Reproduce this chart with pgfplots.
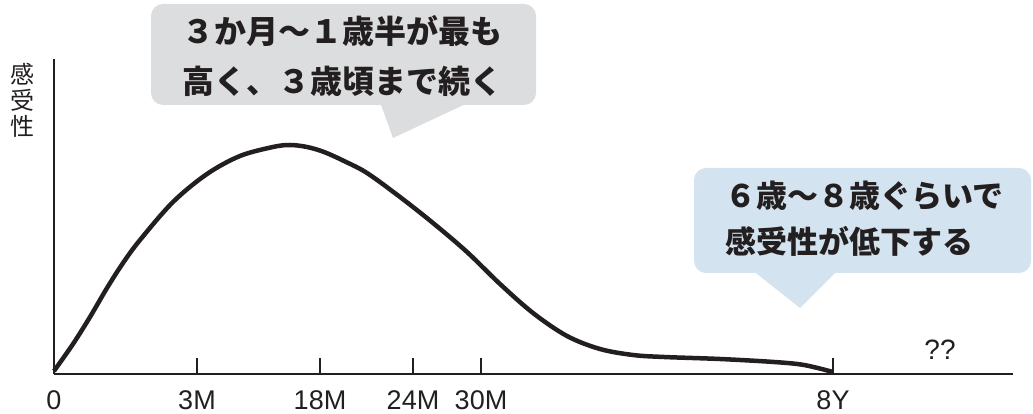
\documentclass[border=0pt]{standalone}
\usepackage{pgfplots}
\pgfplotsset{compat=1.18}
\usepackage{fontspec}
\setmainfont{Liberation Sans}
\newfontfamily\cjk{Noto Sans CJK JP}
\definecolor{ink}{HTML}{231F20}
\definecolor{bubblegray}{HTML}{DCDDDE}
\definecolor{bubbleblue}{HTML}{D3E3F0}

\begin{document}
\begin{tikzpicture}[x=1pt,y=1pt]
\useasboundingbox (0,0) rectangle (1033,414);
\begin{axis}[
	at={(54,40)}, anchor=south west,
	scale only axis, width=959pt, height=315pt,
	xmin=0, xmax=959, ymin=0, ymax=315,
	axis lines=left,
	axis line style={-, line width=1.6pt, color=ink},
	ytick=\empty,
	xtick={0,143,266,359,427,779},
	xticklabels={0,3M,18M,24M,30M,8Y},
	tick align=inside,
	major tick length=16pt,
	x tick style={line width=1.6pt, color=ink},
	xticklabel style={font=\fontsize{27}{32}\selectfont, text=ink, yshift=-13pt},
	clip=false,
]
	% sensitivity curve (pixel units from the axis origin)
	\addplot[ink, line width=4.5pt, smooth, tension=0.55] coordinates {
		(0,3) (19,30) (36,57) (53,86) (69,111) (86,134) (119,172)
		(153,200) (186,218) (219,227) (236,229) (253,227) (270,222)
		(290,213) (313,201) (346,177) (379,151) (413,122) (446,90)
		(479,61) (513,38) (546,25) (579,19) (610,17) (666,15)
		(720,12) (750,9) (779,2)
	};
	\node[font=\fontsize{28}{32}\selectfont, text=ink] at (axis cs:886,24) {??};
\end{axis}

% y label
\node[font=\cjk\fontsize{24}{26}\selectfont, text=ink, align=center] at (22,314) {感\\受\\性};

% gray callout
\fill[bubblegray, rounded corners=12pt] (151,309) rectangle (536,410);
\fill[bubblegray] (380,312) -- (470,312) -- (393,276) -- cycle;
\node[font=\cjk\bfseries\fontsize{32}{50}\selectfont, text=ink, align=center] at (342,358)
	{３か月～１歳半が最も\\高く、３歳頃まで続く};

% blue callout
\fill[bubbleblue, rounded corners=12pt] (694,141) rectangle (1031,246);
\fill[bubbleblue] (752,144) -- (838,144) -- (800,106) -- cycle;
\node[font=\cjk\bfseries\fontsize{31}{46}\selectfont, text=ink, align=left, anchor=west, inner sep=0pt] at (725,195)
	{６歳～８歳ぐらいで\\感受性が低下する};
\end{tikzpicture}
\end{document}
